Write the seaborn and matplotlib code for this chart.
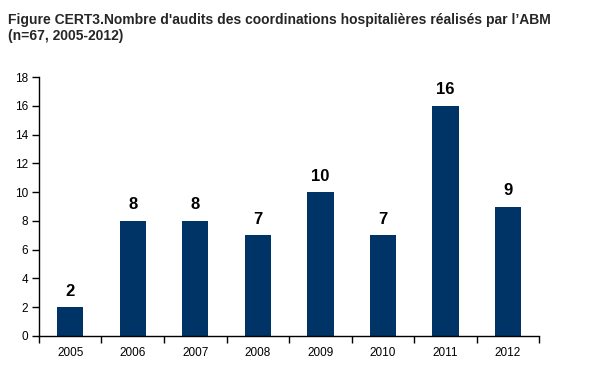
import matplotlib
matplotlib.use("Agg")
import matplotlib.pyplot as plt
import seaborn as sns
import pandas as pd
import numpy as np

years = ["2005", "2006", "2007", "2008", "2009", "2010", "2011", "2012"]
audits = [2, 8, 8, 7, 10, 7, 16, 9]
yticks = [0, 2, 4, 6, 8, 10, 12, 14, 16, 18]

sns.set_style("white")
plt.rcParams['font.family'] = ['Liberation Sans', 'DejaVu Sans']
plt.rcParams['xtick.bottom'] = True
plt.rcParams['ytick.left'] = True

df = pd.DataFrame({"year": years, "n": audits})

fig = plt.figure(figsize=(5.9, 3.8), dpi=100)
ax = fig.add_axes([0.066, 0.116, 0.848, 0.681])
sns.barplot(data=df, x="year", y="n", color="#003366", width=0.42, ax=ax,
            saturation=1, linewidth=0, edgecolor="#003366")

for i, v in enumerate(audits):
    ax.text(i, v + 0.6, str(v), ha="center", va="bottom", fontsize=12, fontweight="bold", color="black")

ax.set_xlim(-0.5, len(years) - 0.5)
ax.set_ylim(0, 18)
ax.set_yticks(yticks)
ax.set_yticklabels([str(t) for t in yticks], fontsize=8.5)
ax.set_xlabel("")
ax.set_ylabel("")
ax.tick_params(axis="x", which="major", bottom=False, length=0, labelsize=8.5, pad=8, labelcolor="black")
ax.set_xticks(np.arange(-0.5, len(years) + 0.5, 1), minor=True)
ax.tick_params(axis="x", which="minor", bottom=True, length=5, width=1, color="black", direction="out")
ax.tick_params(axis="y", left=True, length=5, width=1, color="black", direction="out", pad=3, labelcolor="black")
for s in ["top", "right"]:
    ax.spines[s].set_visible(False)
for s in ["left", "bottom"]:
    ax.spines[s].set_color("black")
    ax.spines[s].set_linewidth(1)

fig.text(0.014, 0.965, "Figure CERT3.Nombre d'audits des coordinations hospitalières réalisés par l’ABM\n(n=67, 2005-2012)",
         ha="left", va="top", fontsize=10, fontweight="bold", linespacing=1.15)

fig.savefig("out.png", dpi=100)
